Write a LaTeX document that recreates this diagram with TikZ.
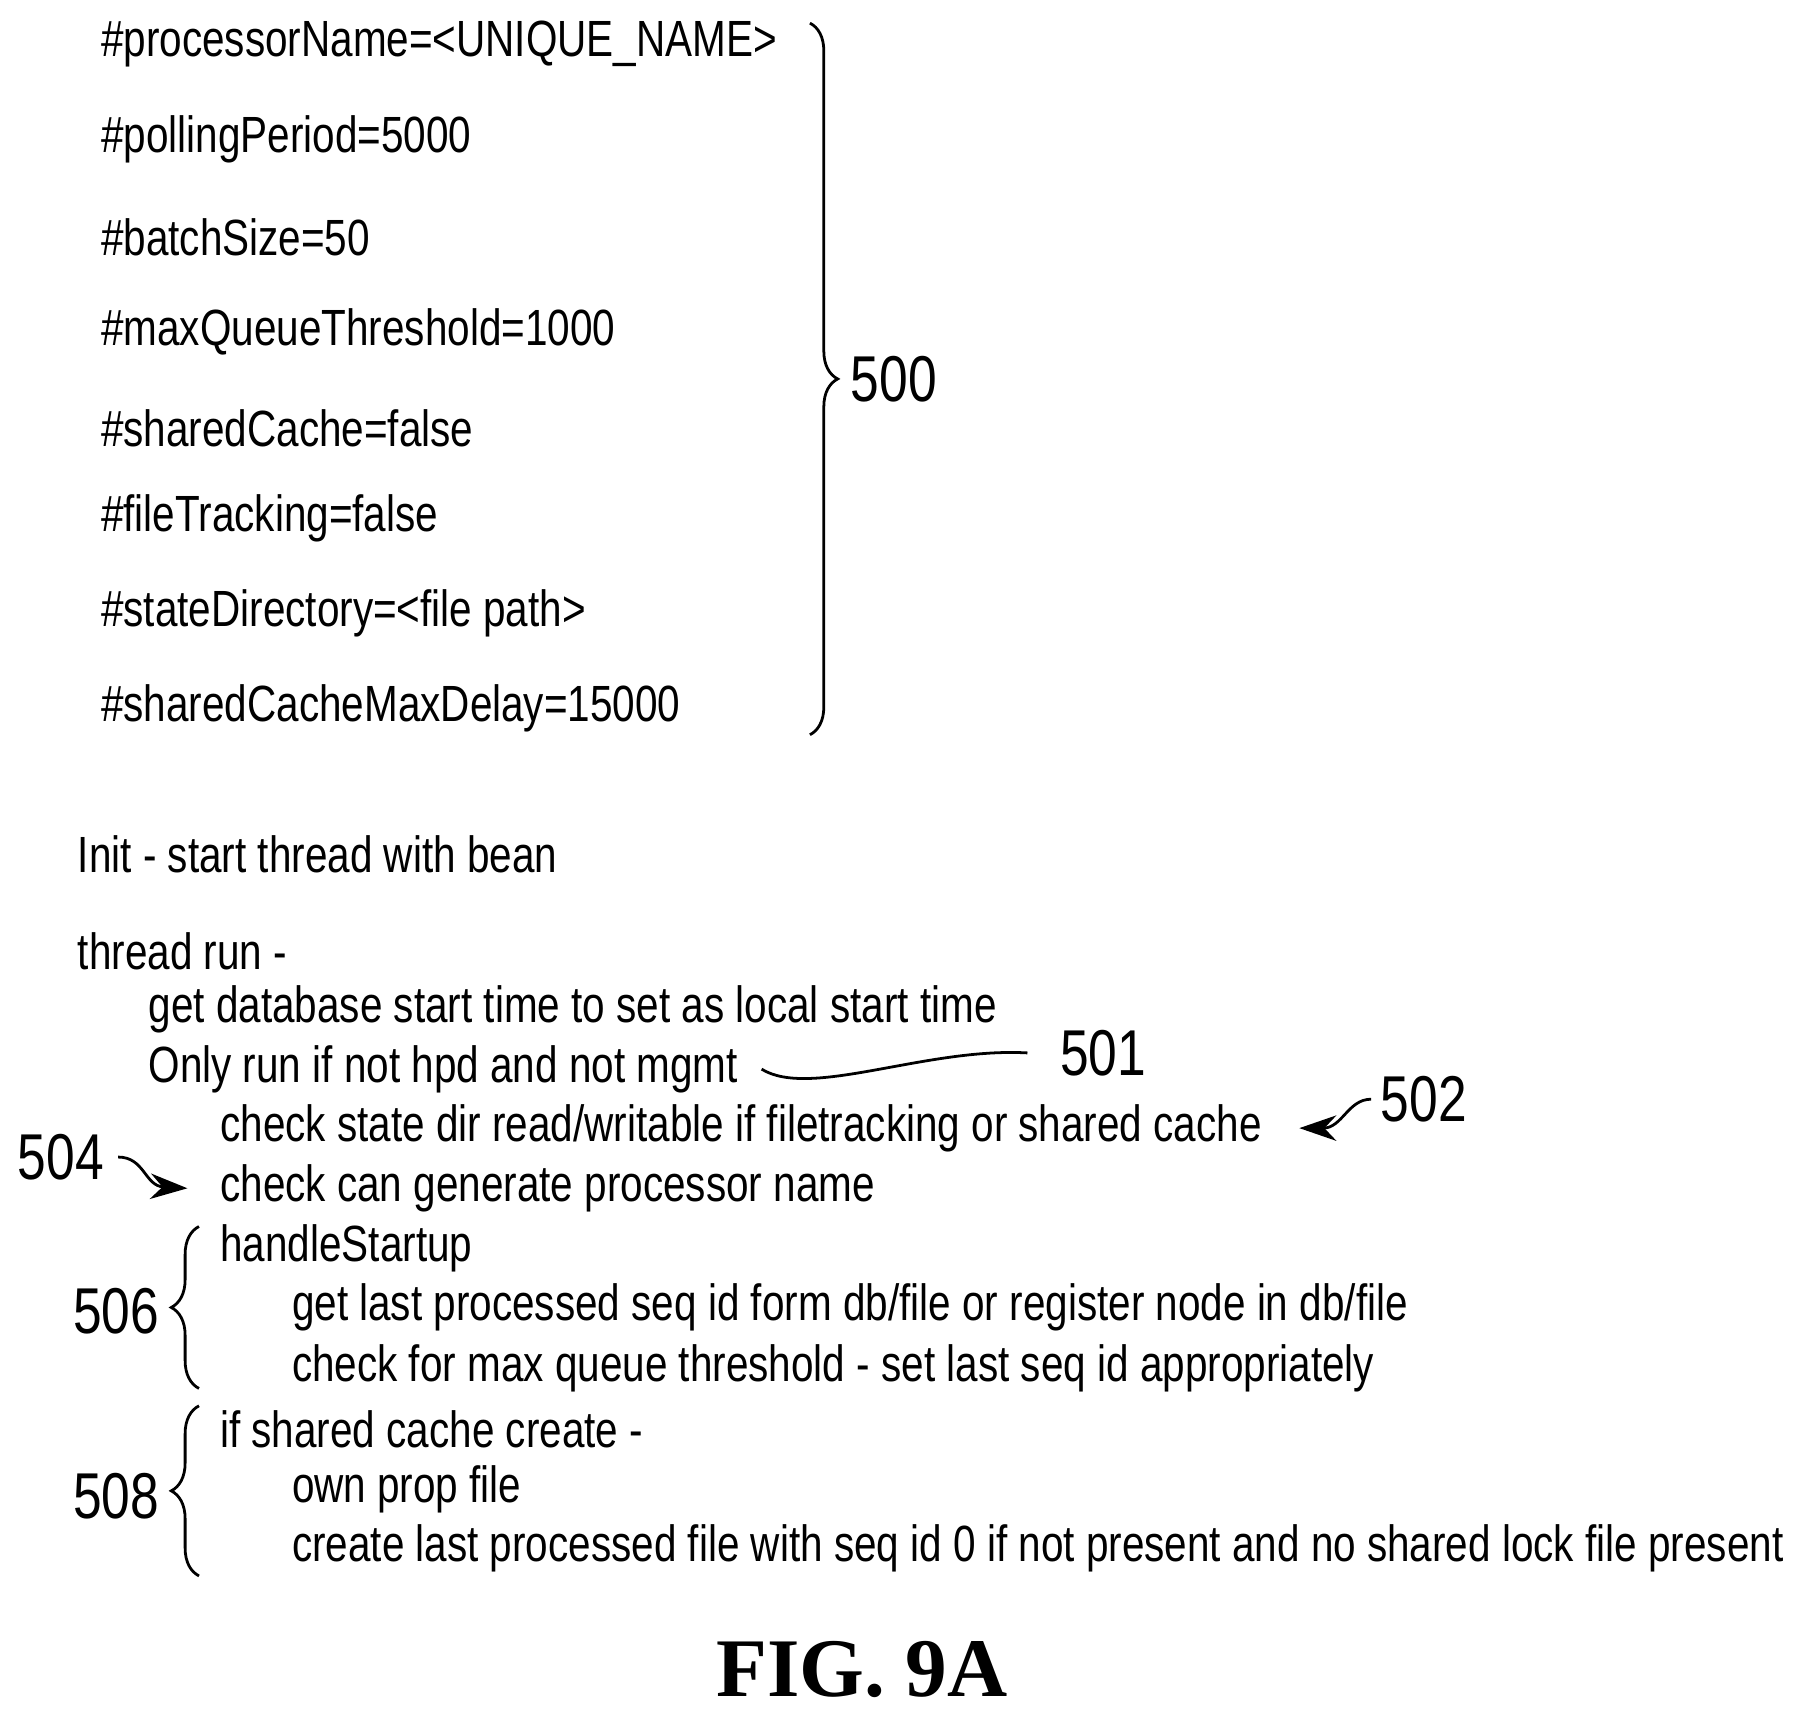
\documentclass[tikz,border=0pt]{standalone}
\usepackage{fontspec}
\setmainfont{Liberation Sans}[FakeStretch=0.795]
\newfontfamily\figfont{Liberation Serif}
\usetikzlibrary{decorations.pathreplacing,arrows.meta}
\begin{document}
\begin{tikzpicture}[x=0.5pt,y=-0.5pt,
  txt/.style={anchor=west,inner sep=0pt,font=\fontsize{22}{24}\selectfont},
  ref/.style={anchor=west,inner sep=0pt,font=\fontsize{28}{30}\selectfont},
  br/.style={decorate,decoration={brace,amplitude=12pt},line width=1.2pt},
  lead/.style={line width=1.2pt}]
\useasboundingbox (0,0) rectangle (1560,1487);
\node[txt] (p1) at (87,38) {\#processorName=<UNIQUE\_NAME>};
\node[txt] (p2) at (87,120) {\#pollingPeriod=5000};
\node[txt] (p3) at (87,205) {\#batchSize=50};
\node[txt] (p4) at (87,287) {\#maxQueueThreshold=1000};
\node[txt] (p5) at (87,370) {\#sharedCache=false};
\node[txt] (p6) at (87,448) {\#fileTracking=false};
\node[txt] (p7) at (87,530) {\#stateDirectory=<file path>};
\node[txt] (p8) at (87,612) {\#sharedCacheMaxDelay=15000};
\coordinate (b1) at (700,20); \coordinate (b2) at (700,635);
\draw[br] (b1) -- (b2);
\node[ref] (r500) at (735,328) {500};

\node[txt] (t1) at (67,738) {Init - start thread with bean};
\node[txt] (t2) at (67,822) {thread run -};
\node[txt] (t3) at (128,872) {get database start time to set as local start time};
\node[txt] (t4) at (128,924) {Only run if not hpd and not mgmt};
\node[txt] (t5) at (190,975) {check state dir read/writable if filetracking or shared cache};
\node[txt] (t6) at (190,1027) {check can generate processor name};
\node[txt] (t7) at (190,1079) {handleStartup};
\node[txt] (t8) at (252,1130) {get last processed seq id form db/file or register node in db/file};
\node[txt] (t9) at (252,1183) {check for max queue threshold - set last seq id appropriately};
\node[txt] (t10) at (190,1235) {if shared cache create -};
\node[txt] (t11) at (252,1287) {own prop file};
\node[txt] (t12) at (252,1338) {create last processed file with seq id 0 if not present and no shared lock file present};

\node[ref] (r501) at (916,910) {501};
\node[ref] (r502) at (1193,950) {502};
\node[ref] (r504) at (15,1000) {504};
\node[ref] (r506) at (63,1133) {506};
\node[ref] (r508) at (63,1293) {508};

\draw[lead] ([xshift=10]t4.east) .. controls (700,950) and (800,905) .. ([xshift=-14]r501.west);
\draw[lead,-{Stealth[length=16pt,width=11pt]}] ([xshift=-4]r502.west) .. controls (1165,950) and (1160,975) .. ([xshift=16]t5.east);
\draw[lead,-{Stealth[length=16pt,width=11pt]}] ([xshift=6]r504.east) .. controls (125,1000) and (125,1025) .. ([xshift=-14]t6.west);
\coordinate (c1) at (172,1200); \coordinate (c2) at (172,1060);
\draw[br] (c1) -- (c2);
\coordinate (d1) at (172,1362); \coordinate (d2) at (172,1215);
\draw[br] (d1) -- (d2);

\node[inner sep=0pt,font=\figfont\bfseries\fontsize{36}{40}\selectfont] (fig) at (745,1443) {FIG. 9A};
\end{tikzpicture}
\end{document}
